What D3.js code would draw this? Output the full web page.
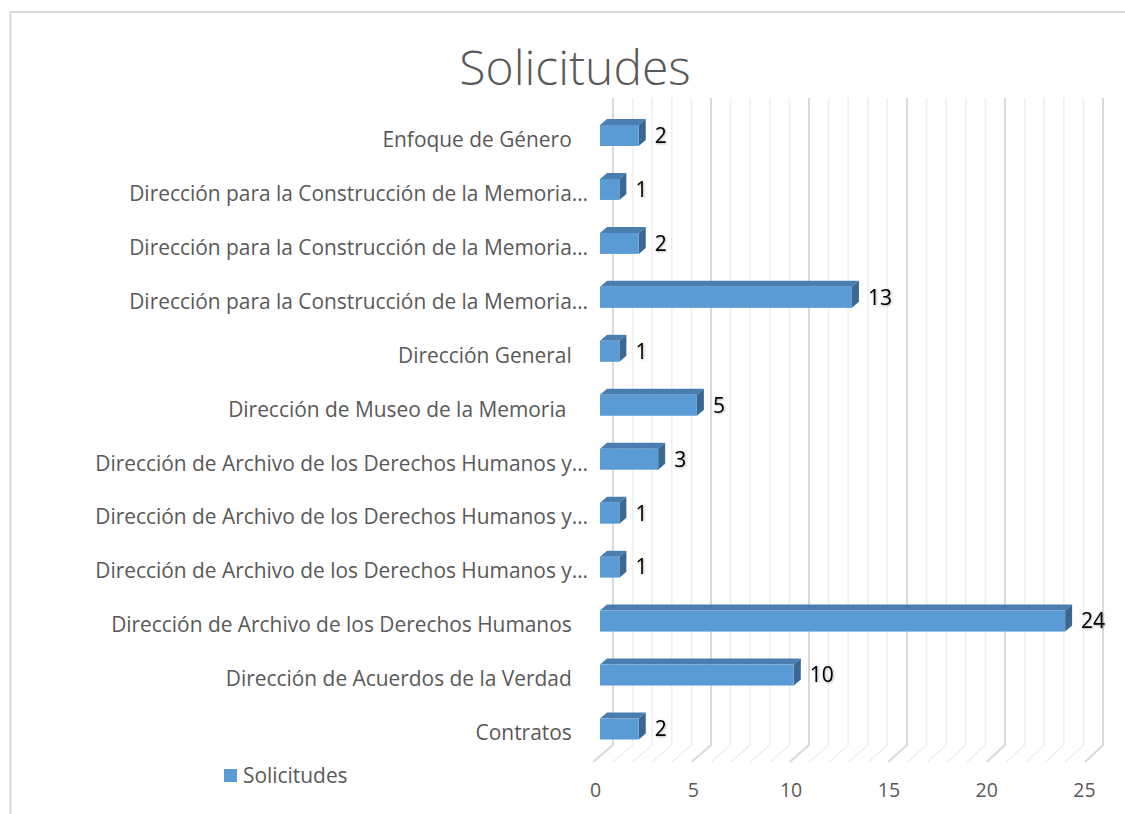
<!DOCTYPE html>
<html><head><meta charset="utf-8">
<script src="https://cdn.jsdelivr.net/npm/d3@7/dist/d3.min.js"></script>
<style>
html,body{margin:0;padding:0;background:#fff;}
svg text{font-family:"Open Sans",sans-serif;white-space:pre;}
</style></head>
<body><svg id="c" width="1125" height="814"></svg>
<script>
const title = "Solicitudes";
const seriesName = "Solicitudes";
const categories = [
  "Enfoque de Género   ",
  "Dirección para la Construcción de la Memoria…",
  "Dirección para la Construcción de la Memoria…",
  "Dirección para la Construcción de la Memoria…",
  "Dirección General   ",
  "Dirección de Museo de la Memoria    ",
  "Dirección de Archivo de los Derechos Humanos y…",
  "Dirección de Archivo de los Derechos Humanos y…",
  "Dirección de Archivo de los Derechos Humanos y…",
  "Dirección de Archivo de los Derechos Humanos   ",
  "Dirección de Acuerdos de la Verdad   ",
  "Contratos   "
];
const values = [2, 1, 2, 13, 1, 5, 3, 1, 1, 24, 10, 2];
const tickValues = [0, 5, 10, 15, 20, 25];
const gridValues = d3.range(0, 26);

const svg = d3.select("#c");
const defs = svg.append("defs");
const f = defs.append("filter").attr("id","sh").attr("x","-20%").attr("y","-20%").attr("width","140%").attr("height","140%");
f.append("feDropShadow").attr("dx",0.8).attr("dy",0.8).attr("stdDeviation",0.8)
  .attr("flood-color","#000").attr("flood-opacity",0.35);

// chart border
svg.append("rect").attr("x",10.5).attr("y",12).attr("width",1300).attr("height",1000)
  .attr("fill","#fff").attr("stroke","#d9d9d9").attr("stroke-width",2);

// scales
const idx = d3.range(categories.length);
const xBack = d3.scaleLinear().domain([0,25]).range([613,1103]);
const xFront = d3.scaleLinear().domain([0,25]).range([593,1085]);
const xBar = d3.scaleLinear().domain([0,25]).range([600,600+25*19.38]);
const xTick = d3.scaleLinear().domain([0,25]).range([595,1084]);
const y = d3.scalePoint().domain(idx).range([135.5,729]);
const wallTop = 98, wallBottom = 745, floorFront = 762;
const dx = 7, dy = 6, barH = 21;

// gridlines (back wall + floor)
const g = svg.append("g");
gridValues.forEach(v=>{
  const major = v % 5 === 0;
  g.append("path")
    .attr("d", `M${xBack(v)},${wallTop}L${xBack(v)},${wallBottom}L${xFront(v)},${floorFront}`)
    .attr("fill","none")
    .attr("stroke", major ? "#d9d9d9" : "#efefef")
    .attr("stroke-width", major ? 2 : 1.6);
});

// bars
const bars = svg.append("g");
idx.forEach(i=>{
  const v = values[i];
  const x0 = xBar(0), x1 = xBar(v);
  const y0 = y(i) - barH/2, y1 = y(i) + barH/2;
  bars.append("path")
    .attr("d", `M${x0},${y0}L${x0+dx},${y0-dy}L${x1+dx},${y0-dy}L${x1},${y0}Z`)
    .attr("fill","#4a7db0");
  bars.append("path")
    .attr("d", `M${x1},${y0}L${x1+dx},${y0-dy}L${x1+dx},${y1-dy}L${x1},${y1}Z`)
    .attr("fill","#3b6892");
  bars.append("rect").attr("x",x0).attr("y",y0).attr("width",x1-x0).attr("height",barH)
    .attr("fill","#5b9bd5");
  bars.append("text").attr("x", x1+dx+9).attr("y", y(i)).attr("dy","0.35em")
    .attr("font-size",21).attr("font-weight",500).attr("fill","#000")
    .attr("filter","url(#sh)").text(v);
});

// category labels
svg.append("g").selectAll("text").data(idx).join("text")
  .attr("x",588).attr("y",i=>y(i)+4).attr("dy","0.35em")
  .attr("text-anchor","end").attr("font-size",20.9).attr("fill","#595959")
  .text(i=>categories[i]);

// x axis tick labels
const axis = d3.axisBottom(xTick).tickValues(tickValues).tickSize(0).tickPadding(0);
const ax = svg.append("g").attr("transform","translate(0,780)").call(axis);
ax.select(".domain").remove();
ax.selectAll("text").attr("font-size",19.5).attr("fill","#595959")
  .attr("font-family","'Open Sans',sans-serif").attr("dy","0.35em").attr("y",10);

// title
svg.append("text").attr("x",575).attr("y",68).attr("dy","0.35em").attr("text-anchor","middle")
  .attr("font-size",48).attr("font-weight",300).attr("fill","#595959").text(title);

// legend
svg.append("rect").attr("x",224).attr("y",769).attr("width",13).attr("height",13).attr("fill","#5b9bd5");
svg.append("text").attr("x",243).attr("y",776).attr("dy","0.35em")
  .attr("font-size",20.9).attr("fill","#595959").text(seriesName);
</script></body></html>
